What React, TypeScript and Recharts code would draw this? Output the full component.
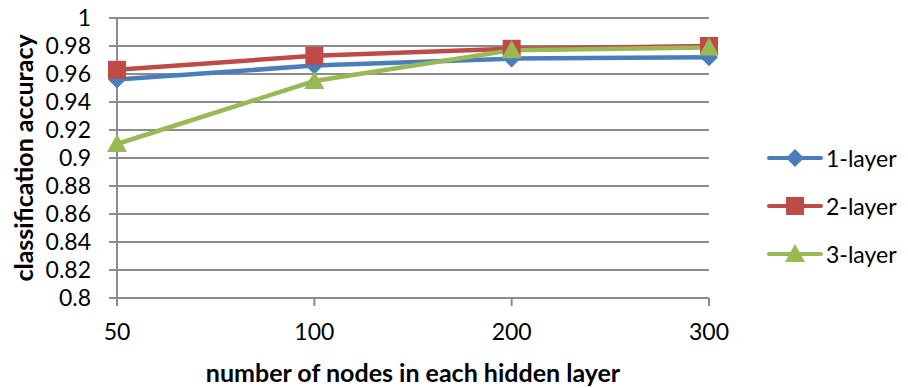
import { LineChart, Line, XAxis, YAxis, CartesianGrid, Legend } from "recharts";

const nodes = ["50", "100", "200", "300"];
const oneLayer = [0.956, 0.966, 0.971, 0.972];
const twoLayer = [0.963, 0.973, 0.978, 0.98];
const threeLayer = [0.91, 0.955, 0.977, 0.979];
const yTicks = [0.8, 0.82, 0.84, 0.86, 0.88, 0.9, 0.92, 0.94, 0.96, 0.98, 1];

const data = nodes.map((n, i) => ({
  nodes: n,
  one: oneLayer[i],
  two: twoLayer[i],
  three: threeLayer[i],
}));

const FONT = "Lato, 'Open Sans', sans-serif";
const BLUE = "#4a7ebb";
const RED = "#be4b48";
const GREEN = "#98b954";

type Shape = "diamond" | "square" | "triangle";

function marker(shape: Shape, color: string, cx: number, cy: number) {
  if (shape === "diamond") {
    return <path d={`M${cx},${cy - 9}L${cx + 9},${cy}L${cx},${cy + 9}L${cx - 9},${cy}Z`} fill={color} />;
  }
  if (shape === "square") {
    return <rect x={cx - 9} y={cy - 9} width={18} height={18} fill={color} />;
  }
  return <path d={`M${cx},${cy - 10}L${cx + 10},${cy + 8}L${cx - 10},${cy + 8}Z`} fill={color} />;
}

const makeDot = (shape: Shape, color: string) => (props: any) => {
  const { cx, cy, index } = props;
  return <g key={`${shape}-${index}`}>{marker(shape, color, cx, cy)}</g>;
};

const series = [
  { key: "one", name: "1-layer", color: BLUE, shape: "diamond" as Shape },
  { key: "two", name: "2-layer", color: RED, shape: "square" as Shape },
  { key: "three", name: "3-layer", color: GREEN, shape: "triangle" as Shape },
];

// legend is drawn by hand so the marker sits on the line like Excel does
function LegendContent() {
  return (
    <div style={{ fontFamily: FONT, fontSize: 23, color: "#000" }}>
      {series.map((s) => (
        <div key={s.key} style={{ display: "flex", alignItems: "center", height: 48 }}>
          <svg width={58} height={24} style={{ marginRight: 2 }}>
            <line x1={3} y1={12} x2={55} y2={12} stroke={s.color} strokeWidth={4} strokeLinecap="round" />
            {marker(s.shape, s.color, 29, 12)}
          </svg>
          <span>{s.name}</span>
        </div>
      ))}
    </div>
  );
}

export default function App() {
  return (
    <div style={{ width: 908, height: 388, background: "#fff" }}>
      <style>{`body{margin:0}`}</style>
      <LineChart width={908} height={388} data={data} margin={{ top: 18, right: 57, bottom: 0, left: 0 }}>
        <CartesianGrid vertical={false} stroke="#8c8c8c" strokeWidth={2} />
        <XAxis
          dataKey="nodes"
          height={90}
          stroke="#8c8c8c"
          strokeWidth={2}
          tickSize={8}
          tickMargin={18}
          tick={{ fill: "#000", fontSize: 23, fontFamily: FONT }}
          label={{
            value: "number of nodes in each hidden layer",
            position: "insideBottom",
            offset: 6,
            fill: "#000",
            fontSize: 25,
            fontWeight: "bold",
            fontFamily: FONT,
          }}
        />
        <YAxis
          width={117}
          domain={[0.8, 1]}
          ticks={yTicks}
          interval={0}
          stroke="#8c8c8c"
          strokeWidth={2}
          tickSize={8}
          tickMargin={18}
          tick={{ fill: "#000", fontSize: 23, fontFamily: FONT }}
          label={{
            value: "classification accuracy",
            angle: -90,
            position: "center",
            dx: -34,
            fill: "#000",
            fontSize: 25,
            fontWeight: "bold",
            fontFamily: FONT,
          }}
        />
        <Legend
          layout="vertical"
          align="right"
          verticalAlign="middle"
          content={<LegendContent />}
          wrapperStyle={{ left: 766, top: 134, right: "auto", width: 142 }}
        />
        {series.map((s) => (
          <Line
            key={s.key}
            type="linear"
            dataKey={s.key}
            name={s.name}
            stroke={s.color}
            strokeWidth={4.5}
            dot={makeDot(s.shape, s.color)}
            activeDot={false}
            isAnimationActive={false}
          />
        ))}
      </LineChart>
    </div>
  );
}
